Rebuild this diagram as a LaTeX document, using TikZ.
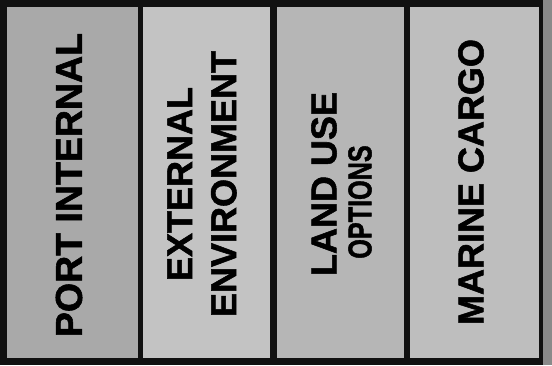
\documentclass[tikz,border=0pt]{standalone}
\usepackage{fontspec}
\setmainfont{Liberation Sans}
\newfontfamily\heavyfont[FakeBold=1.5]{Liberation Sans Bold}
\definecolor{frame}{HTML}{111111}
\definecolor{pone}{HTML}{A9A9A9}
\definecolor{ptwo}{HTML}{C3C3C3}
\definecolor{pthree}{HTML}{B6B6B6}
\definecolor{pfour}{HTML}{BEBEBE}
\definecolor{strip}{HTML}{8A8A8A}
\begin{document}
\begin{tikzpicture}[x=1pt,y=-1pt,
  lbl/.style={font=\fontsize{36}{44}\selectfont\heavyfont,text=black,rotate=90,inner sep=0pt,align=center}]
\useasboundingbox (0,0) rectangle (552,365);
\fill[frame] (0,0) rectangle (543,365);
\fill[strip] (543,0) rectangle (552,365);
\fill[pone] (7,7) rectangle (138,358);
\fill[ptwo] (143,7) rectangle (270,358);
\fill[pthree] (277,7) rectangle (404,358);
\fill[pfour] (410,7) rectangle (539,358);
\node[lbl,font=\fontsize{37.5}{44}\selectfont\heavyfont] (p1) at (69,185) {PORT INTERNAL};
\node[lbl] (p2) at (202,184) {EXTERNAL\\ENVIRONMENT};
\node[lbl] (p3a) at (324,184) {LAND USE};
\node[lbl] (p3b) at (360,202) {\scalebox{0.7}[0.92]{OPTIONS}};
\node[lbl] (p4) at (471,182) {MARINE CARGO};
\end{tikzpicture}
\end{document}
